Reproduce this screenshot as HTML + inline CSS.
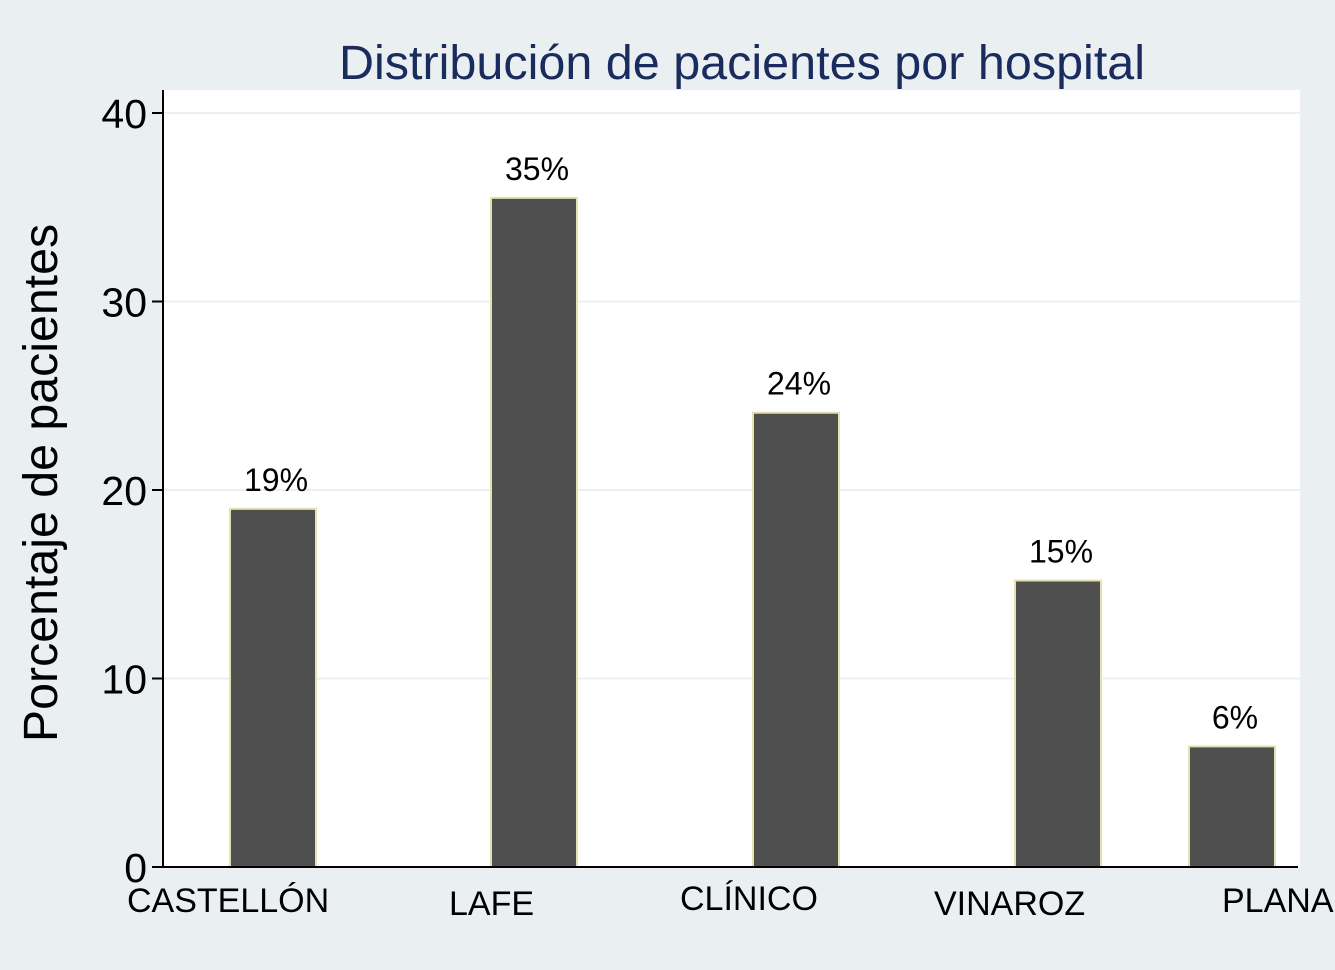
<!DOCTYPE html>
<html><head><meta charset="utf-8"><style>
html,body{margin:0;padding:0;background:#eaf0f2;}
svg{display:block;font-family:"Liberation Sans",Arial,sans-serif;}
</style></head><body>
<svg id="chart" width="1335" height="970" viewBox="0 0 1335 970">
<rect x="0" y="0" width="1335" height="970" fill="#eaf0f2"/>
<rect x="163" y="90" width="1137" height="777" fill="#ffffff"/>
<text x="742" y="79" text-anchor="middle" font-size="48.5" fill="#1a2b5e">Distribución de pacientes por hospital</text>
<text transform="translate(57,483) rotate(-90)" text-anchor="middle" font-size="48.3" fill="#000">Porcentaje de pacientes</text>
<g id="grid"></g><g id="bars"></g><g id="yticks"></g><g id="xlabels"></g>
<line x1="163" y1="90" x2="163" y2="868" stroke="#000" stroke-width="2"/>
<line x1="162" y1="867" x2="1298" y2="867" stroke="#000" stroke-width="2"/>
</svg>
<script>
const categories = ["CASTELLÓN","LAFE","CLÍNICO","VINAROZ","PLANA"];
const values = [19.0, 35.5, 24.1, 15.2, 6.4];
const valueLabels = ["19%","35%","24%","15%","6%"];
const yTicks = [0,10,20,30,40];
const barCenters = [273, 534, 796, 1058, 1232];
const labelOffsetY = [0, 3, -2, 3, 0];
const NS="http://www.w3.org/2000/svg";
const y0=867, y40=113;
function yScale(v){return y0-(v/40)*(y0-y40);}
function mk(tag,attrs,parent,text){const e=document.createElementNS(NS,tag);for(const k in attrs)e.setAttribute(k,attrs[k]);if(text!==undefined)e.textContent=text;document.getElementById(parent).appendChild(e);return e;}
yTicks.forEach(t=>{
  const y=yScale(t);
  if(t>0){const g=mk('line',{x1:164,x2:1300,y1:y,y2:y,stroke:'#eaf0f2','stroke-width':2},'grid');
  
  }
  const tk=mk('line',{x1:152,x2:163,y1:y,y2:y,stroke:'#000','stroke-width':2},'yticks');
  
  
  const tl=mk('text',{x:147,y:y+15,'text-anchor':'end','font-size':41,fill:'#000'},'yticks',String(t));
  
  
});
const xPos=[127,449,680,934,1222];
categories.forEach((c,i)=>{
  const cx=barCenters[i], w=86, top=yScale(values[i]);
  const b=mk('rect',{x:cx-w/2,y:top,width:w,height:y0-top,fill:'#4f4f4f',stroke:'#e6e2b0','stroke-width':2},'bars');
  
  
  const vl=mk('text',{x:cx+3,y:top-18,'text-anchor':'middle','font-size':32,fill:'#000'},'bars',valueLabels[i]);
  
  
  const xl=mk('text',{x:xPos[i],y:912+labelOffsetY[i],'text-anchor':'start','font-size':34,fill:'#000'},'xlabels',c);
  
  
});
</script>
</body></html>
